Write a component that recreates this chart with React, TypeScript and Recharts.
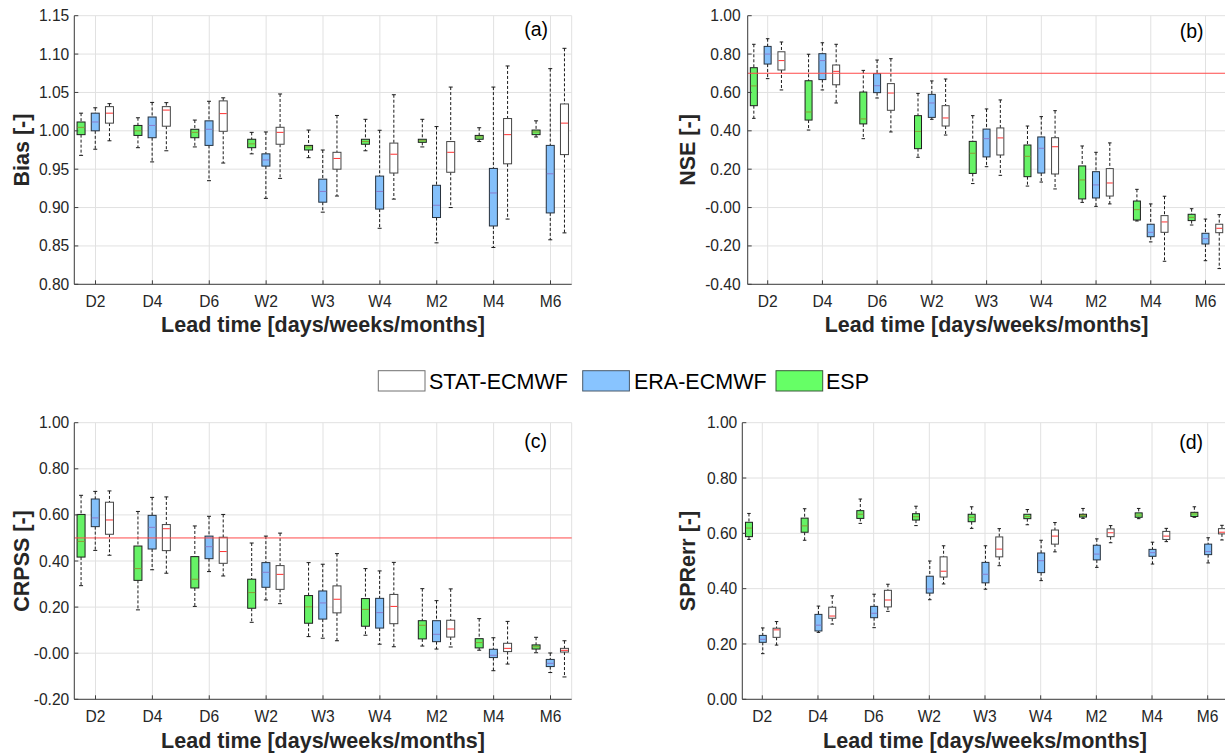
import React from 'react';
import { ComposedChart, Bar, XAxis, YAxis, CartesianGrid, ReferenceLine } from 'recharts';

// ---------------- DATA ----------------
const categories = ['D2', 'D4', 'D6', 'W2', 'W3', 'W4', 'M2', 'M4', 'M6'];
// each entry: [lower whisker, Q1, median, Q3, upper whisker]

const biasESP = [
  [0.968, 0.995, 1.0045, 1.0115, 1.023],
  [0.978, 0.994, 1.0, 1.007, 1.017],
  [0.979, 0.991, 0.998, 1.002, 1.014],
  [0.97, 0.978, 0.983, 0.989, 0.998],
  [0.965, 0.975, 0.979, 0.981, 1.001],
  [0.974, 0.9825, 0.986, 0.989, 1.015],
  [0.979, 0.985, 0.987, 0.989, 1.015],
  [0.986, 0.989, 0.992, 0.994, 1.004],
  [0.992, 0.995, 0.9985, 1.001, 1.013],
];
const biasERA = [
  [0.976, 1.0, 1.0115, 1.023, 1.03],
  [0.9595, 0.991, 1.007, 1.018, 1.037],
  [0.935, 0.981, 1.002, 1.013, 1.0385],
  [0.912, 0.954, 0.962, 0.97, 0.9985],
  [0.894, 0.907, 0.921, 0.937, 0.975],
  [0.873, 0.898, 0.921, 0.941, 1.0007],
  [0.854, 0.887, 0.903, 0.929, 1.0055],
  [0.848, 0.876, 0.919, 0.951, 1.057],
  [0.858, 0.893, 0.944, 0.981, 1.081],
];
const biasSTAT = [
  [0.987, 1.01, 1.023, 1.0315, 1.0354],
  [0.974, 1.006, 1.027, 1.0315, 1.0367],
  [0.958, 0.9994, 1.0224, 1.039, 1.043],
  [0.938, 0.9825, 0.998, 1.0046, 1.048],
  [0.915, 0.95, 0.964, 0.972, 1.02],
  [0.911, 0.945, 0.9695, 0.984, 1.047],
  [0.9, 0.946, 0.972, 0.986, 1.057],
  [0.885, 0.957, 0.995, 1.016, 1.0845],
  [0.867, 0.969, 1.01, 1.035, 1.1075],
];

const nseESP = [
  [0.465, 0.531, 0.634, 0.729, 0.851],
  [0.404, 0.456, 0.498, 0.661, 0.799],
  [0.359, 0.436, 0.462, 0.602, 0.715],
  [0.262, 0.307, 0.397, 0.479, 0.595],
  [0.125, 0.178, 0.283, 0.345, 0.479],
  [0.112, 0.161, 0.267, 0.326, 0.425],
  [0.027, 0.045, 0.144, 0.217, 0.321],
  [-0.07, -0.065, -0.011, 0.034, 0.095],
  [-0.091, -0.068, -0.051, -0.035, -0.006],
];
const nseERA = [
  [0.672, 0.748, 0.8, 0.84, 0.88],
  [0.613, 0.667, 0.766, 0.802, 0.859],
  [0.571, 0.599, 0.635, 0.698, 0.769],
  [0.46, 0.47, 0.545, 0.59, 0.66],
  [0.213, 0.264, 0.359, 0.409, 0.514],
  [0.133, 0.18, 0.309, 0.368, 0.474],
  [0.006, 0.05, 0.118, 0.187, 0.288],
  [-0.179, -0.152, -0.129, -0.087, 0.019],
  [-0.277, -0.19, -0.162, -0.134, -0.06],
];
const nseSTAT = [
  [0.613, 0.717, 0.766, 0.812, 0.863],
  [0.545, 0.64, 0.71, 0.743, 0.851],
  [0.394, 0.507, 0.597, 0.646, 0.776],
  [0.378, 0.425, 0.467, 0.531, 0.67],
  [0.168, 0.274, 0.363, 0.415, 0.561],
  [0.097, 0.175, 0.317, 0.364, 0.505],
  [0.019, 0.06, 0.128, 0.203, 0.337],
  [-0.28, -0.129, -0.075, -0.042, 0.059],
  [-0.318, -0.131, -0.108, -0.087, -0.037],
];

const crpssESP = [
  [0.293, 0.417, 0.485, 0.602, 0.685],
  [0.188, 0.316, 0.367, 0.465, 0.615],
  [0.203, 0.283, 0.321, 0.419, 0.552],
  [0.134, 0.195, 0.263, 0.321, 0.478],
  [0.072, 0.13, 0.201, 0.25, 0.393],
  [0.078, 0.117, 0.19, 0.237, 0.367],
  [0.031, 0.062, 0.121, 0.141, 0.28],
  [0.013, 0.023, 0.046, 0.063, 0.15],
  [0.002, 0.018, 0.028, 0.036, 0.069],
];
const crpssERA = [
  [0.446, 0.549, 0.587, 0.669, 0.702],
  [0.362, 0.452, 0.546, 0.598, 0.676],
  [0.354, 0.41, 0.462, 0.508, 0.594],
  [0.231, 0.286, 0.351, 0.393, 0.508],
  [0.065, 0.148, 0.218, 0.27, 0.386],
  [0.039, 0.109, 0.176, 0.238, 0.357],
  [0.018, 0.05, 0.082, 0.141, 0.228],
  [-0.076, -0.019, -0.009, 0.017, 0.067],
  [-0.084, -0.058, -0.044, -0.027, 0.001],
];
const crpssSTAT = [
  [0.425, 0.516, 0.578, 0.655, 0.704],
  [0.347, 0.445, 0.54, 0.558, 0.678],
  [0.335, 0.39, 0.441, 0.503, 0.602],
  [0.215, 0.277, 0.342, 0.38, 0.521],
  [0.054, 0.175, 0.234, 0.292, 0.432],
  [0.028, 0.128, 0.203, 0.255, 0.394],
  [0.027, 0.07, 0.105, 0.143, 0.279],
  [-0.047, 0.007, 0.021, 0.043, 0.138],
  [-0.103, 0.005, 0.0125, 0.021, 0.054],
];

const sprESP = [
  [0.578, 0.588, 0.619, 0.64, 0.672],
  [0.575, 0.604, 0.627, 0.655, 0.689],
  [0.636, 0.654, 0.669, 0.682, 0.724],
  [0.628, 0.648, 0.66, 0.671, 0.698],
  [0.618, 0.642, 0.658, 0.669, 0.696],
  [0.631, 0.653, 0.661, 0.669, 0.686],
  [0.654, 0.659, 0.665, 0.669, 0.69],
  [0.653, 0.658, 0.666, 0.674, 0.69],
  [0.658, 0.661, 0.67, 0.676, 0.696],
];
const sprERA = [
  [0.165, 0.206, 0.217, 0.231, 0.258],
  [0.242, 0.247, 0.268, 0.307, 0.337],
  [0.259, 0.295, 0.311, 0.336, 0.38],
  [0.36, 0.384, 0.399, 0.445, 0.5],
  [0.398, 0.421, 0.452, 0.495, 0.555],
  [0.429, 0.458, 0.501, 0.529, 0.575],
  [0.477, 0.504, 0.525, 0.557, 0.58],
  [0.489, 0.517, 0.53, 0.542, 0.568],
  [0.493, 0.523, 0.534, 0.561, 0.584],
];
const sprSTAT = [
  [0.196, 0.224, 0.251, 0.257, 0.281],
  [0.272, 0.293, 0.301, 0.333, 0.374],
  [0.318, 0.334, 0.359, 0.394, 0.416],
  [0.417, 0.442, 0.463, 0.515, 0.555],
  [0.483, 0.515, 0.543, 0.587, 0.617],
  [0.533, 0.561, 0.59, 0.612, 0.639],
  [0.566, 0.588, 0.602, 0.616, 0.628],
  [0.57, 0.578, 0.59, 0.607, 0.618],
  [0.576, 0.598, 0.604, 0.617, 0.629],
];

const biasTicks = [0.8, 0.85, 0.9, 0.95, 1.0, 1.05, 1.1, 1.15];
const biasTickLabels = ['0.80', '0.85', '0.90', '0.95', '1.00', '1.05', '1.10', '1.15'];
const nseTicks = [-0.4, -0.2, 0, 0.2, 0.4, 0.6, 0.8, 1.0];
const nseTickLabels = ['-0.40', '-0.20', '-0.00', '0.20', '0.40', '0.60', '0.80', '1.00'];
const crpssTicks = [-0.2, 0, 0.2, 0.4, 0.6, 0.8, 1.0];
const crpssTickLabels = ['-0.20', '-0.00', '0.20', '0.40', '0.60', '0.80', '1.00'];
const sprTicks = [0, 0.2, 0.4, 0.6, 0.8, 1.0];
const sprTickLabels = ['0.00', '0.20', '0.40', '0.60', '0.80', '1.00'];

const seriesNames = ['STAT-ECMWF', 'ERA-ECMWF', 'ESP'];
const xTitle = 'Lead time [days/weeks/months]';

// ---------------- STYLE ----------------
const FONT = '"Liberation Sans", Arial, Helvetica, sans-serif';
const GREEN = '#66f266';
const BLUE = '#84c0fb';
const WHITE = '#ffffff';
const TXT = '#262626';
const AX = '#404040';
const TICK_FS = 15.6;

function buildRows(esp: number[][], era: number[][], stat: number[][]) {
  return categories.map((cat, i) => ({
    cat,
    esp: [esp[i][0], esp[i][4]],
    era: [era[i][0], era[i][4]],
    stat: [stat[i][0], stat[i][4]],
    espS: esp[i],
    eraS: era[i],
    statS: stat[i],
  }));
}

const makeShape = (key: string, fill: string, med: string, edge: string) => (props: any) => {
  const { x, y, width, height, payload } = props;
  const s = payload && payload[key];
  if (!s || !isFinite(x) || !isFinite(y) || !isFinite(height)) return <g />;
  const top = Math.min(y, y + height);
  const h = Math.abs(height);
  const [wb, q1, md, q3, wt] = s;
  const span = wt - wb || 1;
  const py = (v: number) => top + (h * (wt - v)) / span;
  const cx = x + width / 2;
  const cw = width * 0.25;
  return (
    <g>
      <line x1={cx} x2={cx} y1={py(wt)} y2={py(q3)} stroke="#1a1a1a" strokeWidth={1} strokeDasharray="3 2" />
      <line x1={cx} x2={cx} y1={py(q1)} y2={py(wb)} stroke="#1a1a1a" strokeWidth={1} strokeDasharray="3 2" />
      <line x1={cx - cw} x2={cx + cw} y1={py(wt)} y2={py(wt)} stroke="#1a1a1a" strokeWidth={1} />
      <line x1={cx - cw} x2={cx + cw} y1={py(wb)} y2={py(wb)} stroke="#1a1a1a" strokeWidth={1} />
      <rect x={x} y={py(q3)} width={width} height={Math.max(py(q1) - py(q3), 0.5)} fill={fill} stroke={edge} strokeWidth={1} />
      <line x1={x + 0.5} x2={x + width - 0.5} y1={py(md)} y2={py(md)} stroke={med} strokeWidth={1} />
    </g>
  );
};

const espShape = makeShape('espS', GREEN, '#8e9a34', '#1e1e1e');
const eraShape = makeShape('eraS', BLUE, '#8a7ccc', '#26313d');
const statShape = makeShape('statS', WHITE, '#ff3030', '#444444');

type Cfg = {
  L0: number; T0: number; W0: number; H0: number;
  pl: number; pr: number; pt: number; pb: number;
  first: number; xh: number; titleOff: number; yTitleX: number; yTickMargin: number;
  bar: number; gap: number;
};

function Panel({ cfg, rows, ticks, tickLabels, domain, yTitle, refY }: any) {
  const c: Cfg = cfg;
  const W = c.pr - c.pl;
  const s = (W - 2 * c.first) / 8;
  const pad = s / 2 - c.first;
  const fmt = (v: number) => {
    const k = ticks.findIndex((t: number) => Math.abs(t - v) < 1e-9);
    return k >= 0 ? tickLabels[k] : String(v);
  };
  return (
    <div style={{ position: 'absolute', left: c.L0, top: c.T0 }}>
      <ComposedChart
        width={c.W0}
        height={c.H0}
        data={rows}
        margin={{ top: c.pt - c.T0, right: c.L0 + c.W0 - c.pr, left: 0, bottom: c.T0 + c.H0 - c.pb - c.xh }}
        barSize={c.bar}
        barGap={c.gap}
      >
        <CartesianGrid stroke="#e1e1e1" strokeWidth={1} />
        <XAxis
          dataKey="cat"
          type="category"
          interval={0}
          padding={{ left: -pad, right: -pad }}
          height={c.xh}
          axisLine={{ stroke: AX, strokeWidth: 1 }}
          tickLine={{ stroke: AX, strokeWidth: 1 }}
          tickSize={-4}
          tickMargin={15.6}
          tick={{ fontSize: TICK_FS, fill: TXT, fontFamily: FONT }}
          label={{ value: xTitle, position: 'insideBottom', offset: c.titleOff, fontSize: 21.5, fontWeight: 'bold', fill: TXT, fontFamily: FONT }}
        />
        <XAxis
          xAxisId="top"
          orientation="top"
          dataKey="cat"
          type="category"
          interval={0}
          padding={{ left: -pad, right: -pad }}
          height={0}
          axisLine={{ stroke: AX, strokeWidth: 1 }}
          tickLine={{ stroke: AX, strokeWidth: 1 }}
          tickSize={-4}
          tick={false}
        />
        <YAxis
          type="number"
          domain={domain}
          ticks={ticks}
          allowDataOverflow
          interval={0}
          width={c.pl - c.L0}
          axisLine={{ stroke: AX, strokeWidth: 1 }}
          tickLine={{ stroke: AX, strokeWidth: 1 }}
          tickSize={-4}
          tickMargin={c.yTickMargin}
          tickFormatter={fmt}
          tick={{ fontSize: TICK_FS, fill: TXT, fontFamily: FONT }}
          label={{ value: yTitle, angle: -90, position: 'insideLeft', offset: c.yTitleX, fontSize: 21.5, fontWeight: 'bold', fill: TXT, fontFamily: FONT, style: { textAnchor: 'middle' } }}
        />
        <YAxis
          yAxisId="r"
          orientation="right"
          type="number"
          domain={domain}
          ticks={ticks}
          allowDataOverflow
          interval={0}
          width={0}
          axisLine={{ stroke: AX, strokeWidth: 1 }}
          tickLine={{ stroke: AX, strokeWidth: 1 }}
          tickSize={-4}
          tick={false}
        />
        <Bar dataKey="esp" name={seriesNames[2]} shape={espShape} isAnimationActive={false} />
        <Bar dataKey="era" name={seriesNames[1]} shape={eraShape} isAnimationActive={false} />
        <Bar dataKey="stat" name={seriesNames[0]} shape={statShape} isAnimationActive={false} />
        {refY !== undefined && <ReferenceLine y={refY} stroke="#ff4a4a" strokeWidth={1} />}
      </ComposedChart>
    </div>
  );
}

const cfgA: Cfg = { L0: 0, T0: 0, W0: 610, H0: 345, pl: 74.3, pr: 571.7, pt: 15.7, pb: 284.3, first: 21.2, xh: 55, titleOff: 7.3, yTitleX: 21, yTickMargin: 9, bar: 8, gap: 6.2 };
const cfgB: Cfg = { L0: 620, T0: 0, W0: 610, H0: 345, pl: 747.7, pr: 1225.5, pt: 15.7, pb: 284.3, first: 20, xh: 55, titleOff: 7.3, yTitleX: 67.5, yTickMargin: 11, bar: 7, gap: 6.8 };
const cfgC: Cfg = { L0: 0, T0: 400, W0: 610, H0: 354, pl: 74.3, pr: 571.7, pt: 422.7, pb: 699.3, first: 21.2, xh: 50, titleOff: 1.3, yTitleX: 21, yTickMargin: 9, bar: 8, gap: 6.2 };
const cfgD: Cfg = { L0: 620, T0: 400, W0: 615, H0: 354, pl: 742.3, pr: 1227.7, pt: 422.7, pb: 699.3, first: 20, xh: 50, titleOff: 1.3, yTitleX: 67.5, yTickMargin: 9, bar: 7, gap: 6.8 };

export default function App() {
  const legendItems = [
    { name: seriesNames[0], fill: WHITE, edge: '#707070', x: 378.3, tx: 429 },
    { name: seriesNames[1], fill: '#88c4ff', edge: '#4a5a6a', x: 582.7, tx: 634 },
    { name: seriesNames[2], fill: '#66ff66', edge: '#3a5a3a', x: 776, tx: 826 },
  ];
  return (
    <div style={{ position: 'absolute', left: 0, top: 0, width: 1225, height: 754, overflow: 'hidden', background: '#fff', fontFamily: FONT }}>
      <Panel cfg={cfgA} rows={buildRows(biasESP, biasERA, biasSTAT)} ticks={biasTicks} tickLabels={biasTickLabels} domain={[0.8, 1.15]} yTitle="Bias [-]" />
      <Panel cfg={cfgB} rows={buildRows(nseESP, nseERA, nseSTAT)} ticks={nseTicks} tickLabels={nseTickLabels} domain={[-0.4, 1.0]} yTitle="NSE [-]" refY={0.7} />
      <Panel cfg={cfgC} rows={buildRows(crpssESP, crpssERA, crpssSTAT)} ticks={crpssTicks} tickLabels={crpssTickLabels} domain={[-0.2, 1.0]} yTitle="CRPSS [-]" refY={0.5} />
      <Panel cfg={cfgD} rows={buildRows(sprESP, sprERA, sprSTAT)} ticks={sprTicks} tickLabels={sprTickLabels} domain={[0, 1.0]} yTitle="SPRerr [-]" />
      <svg width={1225} height={754} style={{ position: 'absolute', left: 0, top: 0, pointerEvents: 'none' }}>
        <g fontFamily={FONT} fontSize={19.5} fill="#000">
          <text x={548} y={36} textAnchor="end">(a)</text>
          <text x={1203.5} y={37.5} textAnchor="end">(b)</text>
          <text x={547} y={448} textAnchor="end">(c)</text>
          <text x={1203} y={449} textAnchor="end">(d)</text>
        </g>
        {legendItems.map((it) => (
          <g key={it.name}>
            <rect x={it.x} y={370.7} width={46.7} height={20.3} fill={it.fill} stroke={it.edge} strokeWidth={1} />
            <text x={it.tx} y={389.3} fontFamily={FONT} fontSize={21.5} fill="#000">{it.name}</text>
          </g>
        ))}
      </svg>
    </div>
  );
}
